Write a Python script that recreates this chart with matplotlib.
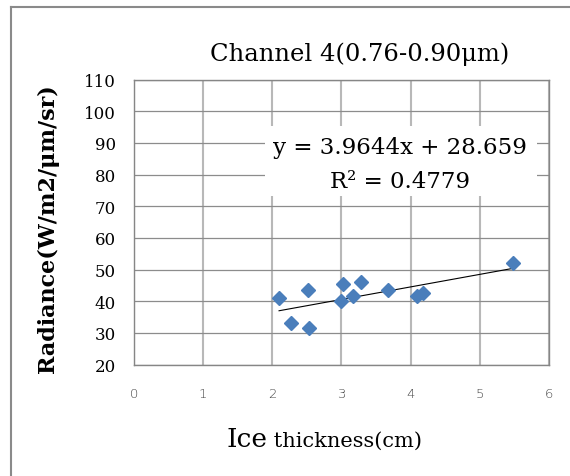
import numpy as np
import matplotlib
matplotlib.use('Agg')
import matplotlib.pyplot as plt
from matplotlib.lines import Line2D
from matplotlib.patches import Rectangle

# data
thickness = [2.10, 2.27, 2.52, 2.53, 3.00, 3.03, 3.17, 3.28, 3.67, 4.10, 4.18, 5.48]
radiance = [41.0, 33.2, 43.6, 31.6, 40.1, 45.3, 41.6, 46.2, 43.6, 41.6, 42.7, 52.0]
slope = 3.9644
intercept = 28.659
r2 = 0.4779
x_ticks = [0, 1, 2, 3, 4, 5, 6]
y_ticks = [20, 30, 40, 50, 60, 70, 80, 90, 100, 110]

W, H = 570, 477
fig = plt.figure(figsize=(W/100, H/100), dpi=100)
ax = fig.add_axes([133.7/W, 1-365.5/H, (549-133.7)/W, (365.5-80.7)/H])

# outer chart frame (only left & top visible)
fig.add_artist(Line2D([11/W, 11/W], [0, 1-8/H], transform=fig.transFigure, color='#8a8a8a', lw=1.5))
fig.add_artist(Line2D([11/W, 1], [1-8/H, 1-8/H], transform=fig.transFigure, color='#8a8a8a', lw=1.5))

ax.set_xlim(x_ticks[0], x_ticks[-1])
ax.set_ylim(y_ticks[0], y_ticks[-1])
ax.set_xticks(x_ticks)
ax.set_yticks(y_ticks)
ax.xaxis.grid(True, color='#b8b8b8', lw=1.5)
ax.yaxis.grid(True, color='#8c8c8c', lw=0.9)
ax.set_axisbelow(True)
for s in ax.spines.values():
    s.set_color('#868686')
    s.set_linewidth(1)
ax.tick_params(axis='both', length=0)
ax.tick_params(axis='x', pad=16, labelsize=9.5, labelcolor='#444444')
ax.tick_params(axis='y', pad=13, labelsize=12)
for lbl in ax.get_yticklabels():
    lbl.set_family('DejaVu Serif')
for lbl in ax.get_xticklabels():
    lbl.set_family('DejaVu Sans')
    lbl.set_fontweight('light')

# trendline
xs = np.array([min(thickness), max(thickness)])
ax.plot(xs, slope*xs + intercept, color='black', lw=0.8, zorder=3)
ax.plot(thickness, radiance, ls='none', marker='D', ms=7.5, color='#4a7ebb', mec='#4a7ebb', zorder=4)

# equation label box
ax.add_patch(Rectangle((0.316, 0.591), 0.655, 0.248, transform=ax.transAxes,
                       facecolor='white', edgecolor='none', zorder=5))
ax.text(0.641, 0.762, 'y = %.4fx + %.3f' % (slope, intercept), transform=ax.transAxes,
        ha='center', va='center', fontsize=16.5, family='DejaVu Serif', zorder=6)
ax.text(0.641, 0.643, 'R² = %.4f' % r2, transform=ax.transAxes,
        ha='center', va='center', fontsize=16.5, family='DejaVu Serif', zorder=6)

fig.text(360/W, 1-54/H, 'Channel 4(0.76-0.90μm)', ha='center', va='center',
         fontsize=17.5, family='DejaVu Serif')
fig.text(48/W, 1-229/H, 'Radiance(W/m2/μm/sr)', ha='center', va='center', rotation=90,
         fontsize=16, family='DejaVu Serif', fontweight='bold')
# x label: bigger "Ice", smaller rest, same baseline
t1 = fig.text(226/W, 1-447/H, 'Ice', ha='left', va='baseline', fontsize=19,
              family='DejaVu Serif')
fig.canvas.draw()
bb = t1.get_window_extent()
fig.text(bb.x1/W, 1-447/H, ' thickness(cm)', ha='left', va='baseline',
         fontsize=15, family='DejaVu Serif')

fig.savefig('out.png', dpi=100)
